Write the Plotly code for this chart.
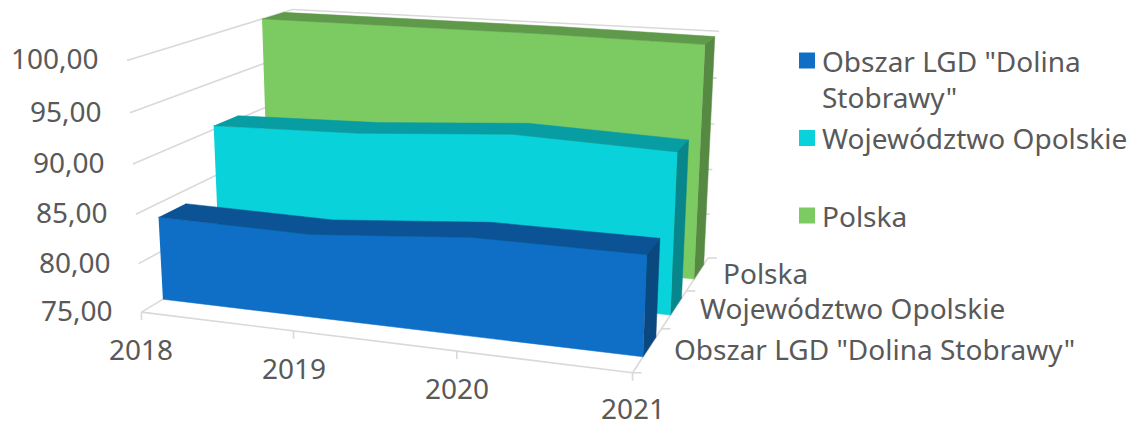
import numpy as np
import plotly.graph_objects as go

# ---------- data ----------
years = ["2018", "2019", "2020", "2021"]
series_names = ['Obszar LGD "Dolina Stobrawy"', "Województwo Opolskie", "Polska"]
legend_names = ['Obszar LGD "Dolina<br>Stobrawy"', "Województwo Opolskie", "Polska"]
legend_line_counts = [2, 1, 1]
blue_values = [83.6, 83.4, 84.7, 84.7]
cyan_values = [90.4, 90.8, 91.9, 91.4]
green_values = [100.0, 100.0, 100.0, 99.8]
value_ticks = [75, 80, 85, 90, 95, 100]
value_tick_labels = ["75,00", "80,00", "85,00", "90,00", "95,00", "100,00"]
front_colors = ["#0F6FC6", "#0AD2DB", "#7CCA62"]
top_colors = ["#0B5394", "#089CA3", "#5E9A4A"]
side_colors = ["#0A4880", "#07868C", "#568A42"]
GRID = "#D9D9D9"
TEXT = "#595959"
FONT = "Noto Sans"
FS = 28

# ---------- perspective camera, calibrated on the picture's frame ----------
W0 = 0.115
WD = 0.15
calib = [
    ((0, 0, 0), (143, 311)), ((0, 1, 0), (128, 62)), ((1, 0, 0), (633, 375)),
    ((1, 0, 1), (708, 255)), ((1, 1, 1), (720, 32)), ((0, 1, 1), (293, 8)),
    ((0, 0, 1), (300, 223)), ((1 / 3, 0, 0), (294, 331)), ((2 / 3, 0, 0), (458, 352)),
    ((1, 0, 1 / 3), (661, 328)), ((1, 0, 2 / 3), (687, 289)),
    ((0, 0.8, 0), (131, 113)), ((0, 0.4, 0), (136, 213)),
    ((1, 0, W0), (643, 358)), ((1, 0, W0 + WD), (655, 340)), ((0, 0, W0), (161, 298)),
    ((1, 0, W0 + 1 / 3), (670, 315)), ((1, 0, W0 + 2 / 3), (693, 278)),
    ((0, 0.344, W0), (157, 215)), ((0, 0.612, W0 + 1 / 3), (212, 125)),
    ((0, 1, W0 + 2 / 3), (261, 20)), ((1, 1, W0 + 2 / 3), (705, 43)),
]
rows = []
for (u, v, w), (px, py) in calib:
    X = [u, v, w, 1]
    x, y = px / 1000, py / 1000
    rows.append(X + [0, 0, 0, 0] + [-x * c for c in X])
    rows.append([0, 0, 0, 0] + X + [-y * c for c in X])
P = np.linalg.svd(np.array(rows))[2][-1].reshape(3, 4)


def proj(i, val, w):
    """category index, value, depth -> picture position"""
    h = P @ np.array([i / 3, (val - 75) / 25, w, 1.0])
    return 1000 * h[0] / h[2], 1000 * h[1] / h[2]


def poly(fig, pts, color):
    fig.add_trace(go.Scatter(
        x=[p[0] for p in pts], y=[p[1] for p in pts], mode="lines", fill="toself",
        fillcolor=color, line=dict(color=color, width=0.5), hoverinfo="skip", showlegend=False))


def line(fig, a, b, width=1.6):
    fig.add_trace(go.Scatter(
        x=[a[0], b[0]], y=[a[1], b[1]], mode="lines", line=dict(color=GRID, width=width),
        hoverinfo="skip", showlegend=False))


fig = go.Figure()

# frame
for t in value_ticks:
    if t > 75:
        line(fig, proj(0, t, 0), proj(0, t, 1))
        line(fig, proj(0, t, 1), proj(3, t, 1))
line(fig, proj(0, 75, 0), proj(3, 75, 0))
line(fig, proj(0, 75, 0), proj(0, 75, 1))
line(fig, proj(3, 75, 0), proj(3, 75, 1))
for i in range(4):
    a = proj(i, 75, 0)
    line(fig, a, (a[0], a[1] + 8))
for k in range(4):
    a = proj(3, 75, k / 3)
    line(fig, a, (a[0] + 9, a[1]))

# blocks, back to front
all_values = [blue_values, cyan_values, green_values]
for k in [2, 1, 0]:
    vals = all_values[k]
    w0, w1 = W0 + k / 3, W0 + WD + k / 3
    idx = range(len(vals))
    front_top = [proj(i, vals[i], w0) for i in idx]
    back_top = [proj(i, vals[i], w1) for i in idx]
    poly(fig, front_top + [proj(3, 75, w0), proj(0, 75, w0)], front_colors[k])
    poly(fig, front_top + back_top[::-1], top_colors[k])
    poly(fig, [front_top[-1], back_top[-1], proj(3, 75, w1), proj(3, 75, w0)], side_colors[k])

# tick labels
ann = []
for t, lab in zip(value_ticks, value_tick_labels):
    x, y = proj(0, t, 0)
    ann.append(dict(x=x - 26, y=y - 2, text=lab, xanchor="right", yanchor="middle"))
for i, lab in enumerate(years):
    x, y = proj(i, 75, 0)
    ann.append(dict(x=x, y=min(y + 37, 407.5), text=lab, xanchor="center", yanchor="middle"))
for k, lab in enumerate(series_names):
    x, y = proj(3, 75, (k + 0.5) / 3)
    ann.append(dict(x=x + 24, y=y - 1, text=lab, xanchor="left", yanchor="middle"))

# legend, placed as in the reference
legend_x, legend_text_x = 807, 820
legend_y = [60.5, 138, 215.5]
line_h = 1.3 * FS
fig.add_trace(go.Scatter(
    x=[legend_x] * 3, y=legend_y, mode="markers", hoverinfo="skip", showlegend=False,
    marker=dict(symbol="square", size=16, color=front_colors, line=dict(width=0))))
for ly, name, n in zip(legend_y, legend_names, legend_line_counts):
    ann.append(dict(x=legend_text_x, y=ly + (n - 1) * line_h / 2, text=name,
                    xanchor="left", yanchor="middle", align="left"))

for a in ann:
    a.update(xref="x", yref="y", showarrow=False, font=dict(family=FONT, size=FS, color=TEXT))

fig.update_layout(
    width=1138, height=427, margin=dict(l=0, r=0, t=0, b=0),
    paper_bgcolor="white", plot_bgcolor="white", showlegend=False,
    xaxis=dict(range=[0, 1138], visible=False, fixedrange=True),
    yaxis=dict(range=[427, 0], visible=False, fixedrange=True),
    annotations=ann,
)
fig.write_html("out.html", config=dict(displayModeBar=False),
               post_script="document.body.style.margin='0';")
